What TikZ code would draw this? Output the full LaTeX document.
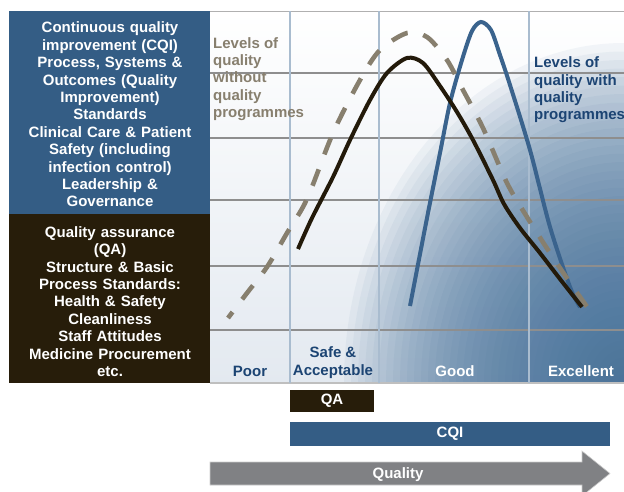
\documentclass[tikz,border=0pt]{standalone}
\usepackage{fontspec}
\setmainfont{Liberation Sans}
\definecolor{panelblue}{HTML}{345D85}
\definecolor{paneldark}{HTML}{271D0A}
\definecolor{taupe}{HTML}{877F6E}
\definecolor{curvedark}{HTML}{231A0A}
\definecolor{curveblue}{HTML}{3A638D}
\definecolor{textblue}{HTML}{1C4473}
\definecolor{arrowgray}{HTML}{808184}
\definecolor{gridlight}{HTML}{E3E9F0}
\definecolor{gridh}{HTML}{8E8E8E}
\definecolor{gridv}{HTML}{A9BCCF}
\definecolor{shadeblue}{HTML}{44709A}
\begin{document}
\begin{tikzpicture}[x=1pt,y=-1pt,
  font=\bfseries\fontsize{15}{17.4}\selectfont,
  panel/.style={minimum width=201pt, inner sep=0pt},
  paneltext/.style={text width=199pt, align=center, inner sep=0pt, text=white},
  hline/.style={gridh, line width=1.1pt},
  vline/.style={gridv, line width=1.4pt},
  curve/.style={line width=4pt, smooth, tension=0.5},
  barbox/.style={inner sep=0pt, text=white},
  lab/.style={inner sep=0pt}]
\useasboundingbox (0,0) rectangle (624,491);
% grid background
\shade[top color=white, bottom color=gridlight] (210,11) rectangle (624,383);
\begin{scope}
\clip (210,11) rectangle (624,383);
\foreach \i in {1,...,40}
  \fill[shadeblue, opacity=0.06] (624,383) ellipse [x radius={7*\i}, y radius={8.5*\i}];
\end{scope}
% grid lines
\foreach \yy in {73,138,200,266,330} \draw[hline] (210,\yy) -- (624,\yy);
\draw[gridh!70, line width=1pt] (210,11) -- (624,11);
\draw[gray!50, line width=1.5pt] (210,383) -- (624,383);
\foreach \xx in {290,379,529} \draw[vline] (\xx,11) -- (\xx,383);
% panels
\node[panel, fill=panelblue, minimum height=203pt] (cqipanel) at (109.5,112.5) {};
\node[panel, fill=paneldark, minimum height=169pt] (qapanel) at (109.5,298.5) {};
\node[paneltext] (cqitext) at (110,114.5) {Continuous quality improvement (CQI)\\Process, Systems \&\\Outcomes (Quality\\Improvement)\\Standards\\Clinical Care \& Patient\\Safety (including\\infection control)\\Leadership \&\\Governance};
\node[paneltext] (qatext) at (110,301.5) {Quality assurance\\(QA)\\Structure \& Basic\\Process Standards:\\Health \& Safety\\Cleanliness\\Staff Attitudes\\Medicine Procurement\\etc.};
% curves
\draw[curveblue, curve] plot coordinates {(410,306) (427,218) (440,153) (450,103) (462,60) (472,31) (481,22) (491,30) (500,55) (510,85) (530,150) (550,227) (570,287) (580,307)};
\draw[taupe, curve, line width=4.6pt, dash pattern=on 17.5pt off 16pt, dash phase=10pt] plot coordinates {(228,318) (247,293) (267,267) (287,233) (307,199) (333,133) (360,80) (380,50) (407,33) (427,37) (447,60) (463,90) (483,128) (507,183) (527,217) (550,253) (573,287) (595,318)};
\draw[curvedark, curve] plot coordinates {(298,249) (312,218) (333,177) (350,140) (370,100) (387,73) (407,58) (423,63) (440,86) (457,112) (473,140) (493,180) (504,204) (520,228) (540,253) (560,279) (582,307)};
% labels
\node[lab, text=taupe, anchor=west, align=left] (without) at (213,79) {Levels of\\quality\\without\\quality\\programmes};
\node[lab, text=textblue, anchor=west, align=left] (with) at (534,90) {Levels of\\quality with\\quality\\programmes};
\node[lab, text=textblue] (poor) at (250,371) {Poor};
\node[lab, text=textblue, align=center] (safe) at (333,362.5) {Safe \&\\Acceptable};
\node[lab, text=white] (good) at (455,371) {Good};
\node[lab, text=white] (excellent) at (581,371) {Excellent};
% bars
\node[barbox, fill=paneldark, minimum width=84pt, minimum height=22pt] (qa) at (332,401) {QA};
\node[barbox, fill=panelblue, minimum width=320pt, minimum height=24pt] (cqi) at (450,434) {CQI};
\fill[arrowgray, draw=gray!40, line width=0.6pt] (210,462) -- (582,462) -- (582,451) -- (610,473.5) -- (582,496) -- (582,485) -- (210,485) -- cycle;
\node[lab, text=white] (quality) at (398,475) {Quality};
\end{tikzpicture}
\end{document}
